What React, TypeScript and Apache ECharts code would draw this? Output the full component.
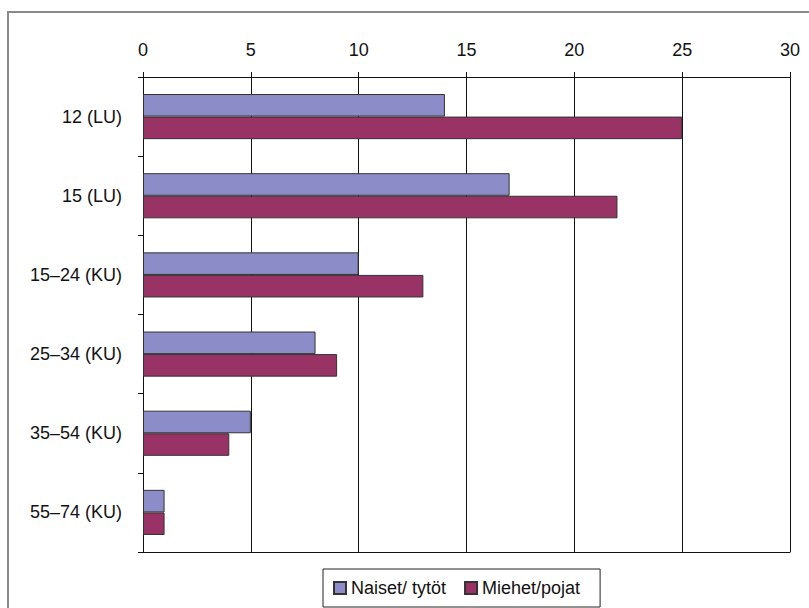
import React, { useEffect, useRef } from "react";
import * as echarts from "echarts";

const categories = ["12 (LU)", "15 (LU)", "15–24 (KU)", "25–34 (KU)", "35–54 (KU)", "55–74 (KU)"];
const naiset = [14, 17, 10, 8, 5, 1];
const miehet = [25, 22, 13, 9, 4, 1];
const seriesNames = ["Naiset/ tytöt", "Miehet/pojat"];
const xMin = 0;
const xMax = 30;
const xStep = 5;

export default function App() {
  const ref = useRef<HTMLDivElement>(null);
  useEffect(() => {
    if (!ref.current) return;
    const chart = echarts.init(ref.current, undefined, { renderer: "svg" });
    const font = "Liberation Sans, Arial, sans-serif";
    chart.setOption({
      animation: false,
      backgroundColor: "#ffffff",
      graphic: [
        {
          type: "rect",
          shape: { x: 8, y: 12, width: 900, height: 700 },
          style: { fill: "none", stroke: "#8a8a8a", lineWidth: 2 },
          silent: true,
        },
      ],
      grid: { left: 143, top: 77, width: 647, height: 475, containLabel: false },
      legend: {
        left: 323,
        top: 569,
        orient: "horizontal",
        borderColor: "#222",
        borderWidth: 1,
        padding: [10, 20, 10, 10],
        itemWidth: 12,
        itemHeight: 12,
        itemGap: 18,
        icon: "rect",
        textStyle: { fontFamily: font, fontSize: 18, color: "#111" },
        data: seriesNames,
      },
      xAxis: [
        {
          type: "value",
          position: "top",
          min: xMin,
          max: xMax,
          interval: xStep,
          axisLine: { show: true, lineStyle: { color: "#111", width: 1 } },
          axisTick: { show: true, length: 5, lineStyle: { color: "#111" } },
          axisLabel: { fontFamily: font, fontSize: 18, color: "#111", margin: 18 },
          splitLine: { show: true, lineStyle: { color: "#111", width: 1 } },
        },
        {
          type: "value",
          position: "bottom",
          min: xMin,
          max: xMax,
          interval: xStep,
          axisLine: { show: true, onZero: false, lineStyle: { color: "#111", width: 1 } },
          axisTick: { show: false },
          axisLabel: { show: false },
          splitLine: { show: false },
        },
      ],
      yAxis: {
        type: "category",
        inverse: true,
        data: categories,
        axisLine: { show: true, onZero: false, lineStyle: { color: "#111", width: 1 } },
        axisTick: { show: true, length: 5, lineStyle: { color: "#111" } },
        axisLabel: { fontFamily: font, fontSize: 18, color: "#111", margin: 21 },
        splitLine: { show: false },
      },
      series: [
        {
          name: seriesNames[0],
          type: "bar",
          xAxisIndex: 0,
          data: naiset,
          barCategoryGap: "43%",
          barGap: "0%",
          itemStyle: { color: "#8c8cc9", borderColor: "#333", borderWidth: 1 },
        },
        {
          name: seriesNames[1],
          type: "bar",
          xAxisIndex: 0,
          data: miehet,
          barCategoryGap: "43%",
          barGap: "0%",
          itemStyle: { color: "#993366", borderColor: "#333", borderWidth: 1 },
        },
      ],
    });
    return () => chart.dispose();
  }, []);
  return (
    <div
      ref={ref}
      style={{ position: "absolute", left: 0, top: 0, width: 809, height: 608 }}
    />
  );
}
